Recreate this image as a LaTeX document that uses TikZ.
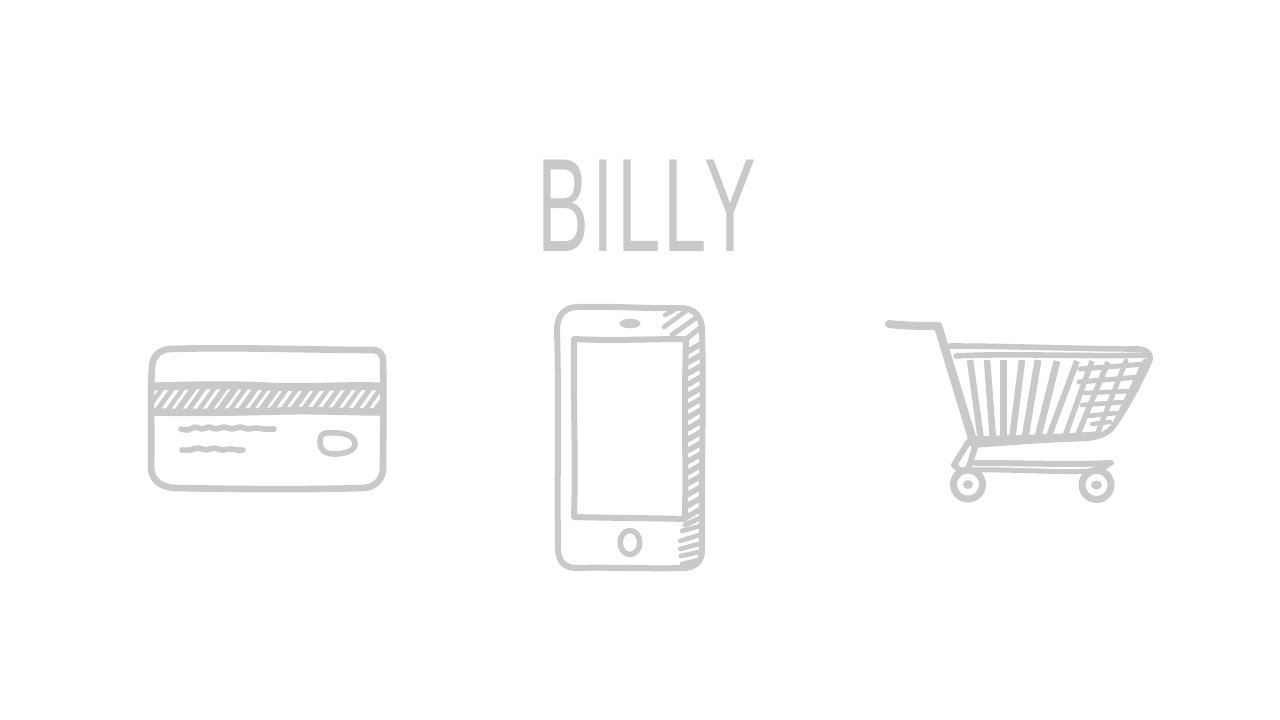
\documentclass[tikz,border=0pt]{standalone}
\usepackage{fontspec}
\setmainfont{Liberation Sans}
\newfontfamily\titlefont[LetterSpace=4.2]{Liberation Sans}
\definecolor{ink}{HTML}{C9C9C9}
\tikzset{
  inkline/.style={draw=ink,line cap=round,line join=round,line width=#1},
  inkline/.default=5.5pt,
  hatchline/.style={draw=ink,line cap=butt,line width=#1},
  hatchline/.default=3.6pt
}
\begin{document}
\begin{tikzpicture}[x=1pt,y=-1pt]
\useasboundingbox (0,0) rectangle (1280,720);
\fill[white] (0,0) rectangle (1280,720);
% title
\node[inner sep=0pt,anchor=base west,text=ink,font=\titlefont\fontsize{133}{133}\selectfont,xscale=0.585] (title) at (537,251) {BILLY};
% ---------- card
\draw[inkline=6.6pt] (171,349) .. controls (230,347) and (320,350) .. (372,350)
  .. controls (380,350) and (383,354) .. (383,362)
  .. controls (384,400) and (383,440) .. (383,470)
  .. controls (382,482) and (372,488) .. (362,488)
  .. controls (300,490) and (230,489) .. (175,488)
  .. controls (160,487) and (151,480) .. (151,466)
  .. controls (152,430) and (150,395) .. (152,368)
  .. controls (152,356) and (160,349) .. (171,349) -- cycle;
\begin{scope}
  \clip (152,388) rectangle (383,412);
  \foreach \k/\w in {0/4.5,1/5,2/4.5,3/6,4/5,5/4.5,6/5.5,7/6.5,8/4.5,9/5.5,10/4.5,11/6.5,12/5,13/4.5,14/6,15/5,16/4.5,17/5,18/5.5,19/4.5,20/5,21/4.5,22/5.5}{
    \draw[hatchline=\w pt] ({144+\k*10.4},414) -- ({164+\k*10.4},386);
  }
\end{scope}
\draw[inkline=8pt] (153,386.5) .. controls (200,385) and (230,385) .. (260,386)
  .. controls (300,389) and (340,385) .. (382,386.5);
\draw[inkline=7.5pt] (153,412) .. controls (200,413) and (240,412) .. (280,411)
  .. controls (320,410) and (350,412) .. (382,412);
\draw[inkline=5.6pt] plot[smooth,tension=.7] coordinates {(181,429) (188,430) (195,427) (202,429) (209,427) (216,429) (224,427) (232,429) (240,427) (248,429) (256,428) (264,429) (274,429)};
\draw[inkline=5.6pt] plot[smooth,tension=.7] coordinates {(182,450) (190,450) (198,448) (206,450) (214,448) (222,450) (230,449) (237,450) (243,450)};
\draw[inkline=5.6pt] (327,433) .. controls (340,432) and (354,434) .. (355,443)
  .. controls (356,450) and (346,454) .. (335,454)
  .. controls (325,454) and (320,450) .. (320,442)
  .. controls (320,436) and (322,433) .. (327,433) -- cycle;
% ---------- phone
\draw[inkline=6pt] (578,307) .. controls (620,306) and (650,309) .. (682,308)
  .. controls (696,309) and (702,318) .. (702,330)
  .. controls (704,400) and (701,480) .. (702,550)
  .. controls (702,562) and (695,568) .. (682,568)
  .. controls (650,569) and (610,567) .. (575,568)
  .. controls (563,567) and (558,560) .. (558,548)
  .. controls (557,480) and (559,400) .. (557,330)
  .. controls (557,316) and (564,307) .. (578,307) -- cycle;
\draw[inkline=6pt] (574,339) .. controls (610,341) and (650,339) .. (686,339)
  .. controls (684,400) and (686,460) .. (685,519)
  .. controls (650,518) and (610,518) .. (574,517)
  .. controls (576,460) and (573,400) .. (574,339) -- cycle;
\fill[ink] (630,323.5) ellipse [x radius=10.5,y radius=4.8];
\draw[inkline=5.5pt] (630,542.5) ellipse [x radius=9.8,y radius=12];
\foreach \y in {347,358,...,513}{
  \draw[hatchline=5.6pt] (687,\y+5) -- (701,\y-3);
}
\draw[hatchline=4.6pt,line cap=round] (665,315) -- (676,309);
\draw[hatchline=4.6pt,line cap=round] (664,327) -- (686,311);
\draw[hatchline=5pt,line cap=round] (672,335) -- (697,317);
\draw[hatchline=5pt,line cap=round] (685,340) -- (700,328);
\draw[hatchline=5pt,line cap=round] (685,525) -- (700,518);
\draw[hatchline=4.6pt,line cap=round] (682,531) -- (700,526);
\draw[hatchline=4.6pt,line cap=round] (680,541) -- (699,535);
\draw[hatchline=4.6pt,line cap=round] (680,549) -- (699,544);
\draw[hatchline=4.6pt,line cap=round] (681,556) -- (699,552);
\draw[hatchline=4.6pt,line cap=round] (682,564) -- (698,560);
% ---------- cart
\draw[inkline=8pt] (889,324) .. controls (905,326) and (925,326) .. (938,326);
\draw[inkline=8.5pt] (938,326) .. controls (950,365) and (962,405) .. (974,444);
\draw[inkline=5.6pt] (950,346) .. controls (1010,346) and (1080,349) .. (1139,349)
  .. controls (1148,350) and (1151,354) .. (1150,360)
  .. controls (1139,385) and (1125,410) .. (1112,428)
  .. controls (1100,440) and (1085,438) .. (1070,439)
  .. controls (1040,440) and (1005,443) .. (974,445);
\draw[inkline=5.6pt] (956,356) .. controls (1010,353) and (1090,357) .. (1146,355);
\draw[inkline=6pt] (976,439) .. controls (1020,438) and (1070,437) .. (1100,434);
\foreach \a/\b/\c/\d/\w in {970/360/981/440/6.5,987/360/993/440/6.5,1003/360/1003/440/7,1022/360/1012/440/6.5,1038/360/1025/438/7,1057/361/1038/437/7,1077/361/1049/436/6,1092/361/1065/436/5.5,1108/362/1078/434/5.5}{
  \draw[inkline=\w pt,line cap=butt] (\a,\b) -- (\c,\d);
}
\draw[inkline=5pt] (1080,369) -- (1145,364);
\draw[inkline=5pt] (1079,382) -- (1139,377);
\draw[inkline=4.6pt] (1085,393) -- (1132,391);
\draw[inkline=4.6pt] (1082,405) -- (1125,402);
\draw[inkline=4.6pt] (1088,416) -- (1116,413);
\draw[inkline=4.4pt] (1092,424) -- (1110,422);
\draw[inkline=5pt] (1126,361) -- (1098,432);
\draw[inkline=5pt] (1145,361) -- (1115,424);
% legs and rails
\draw[inkline=6pt] (969,441) -- (954,465) -- (964,474);
\draw[inkline=6pt] (975,447) -- (968,470);
\draw[inkline=6pt] (975,463) .. controls (1020,463) and (1070,465) .. (1111,463);
\draw[inkline=5pt] (972,470) .. controls (1010,469) and (1060,473) .. (1090,471) -- (1107,466);
\draw[draw=ink,line width=7pt,fill=white] (968,484.5) circle [radius=14.5];
\fill[ink] (968,484.5) ellipse [x radius=5,y radius=4.5];
\draw[draw=ink,line width=7pt,fill=white] (1096.5,485) circle [radius=14.5];
\fill[ink] (1096.5,485) ellipse [x radius=5.5,y radius=4.5];
\end{tikzpicture}
\end{document}
